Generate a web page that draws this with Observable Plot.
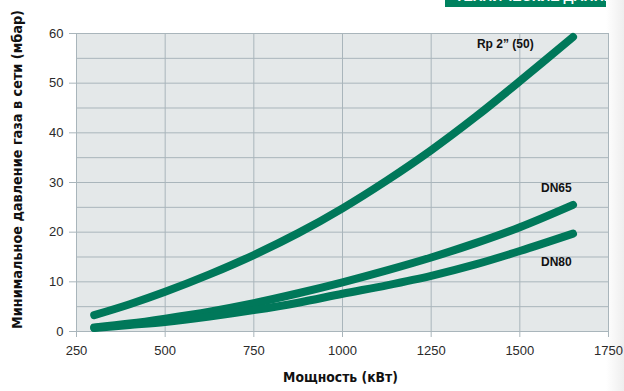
<!DOCTYPE html>
<html>
<head>
<meta charset="utf-8">
<script src="https://cdn.jsdelivr.net/npm/d3@7"></script>
<script src="https://cdn.jsdelivr.net/npm/@observablehq/plot@0.6"></script>
<style>
  html, body { margin: 0; padding: 0; background: #fff; }
  #wrap { position: relative; width: 624px; height: 391px; overflow: hidden; }
  #shade { position: absolute; left: 606px; top: 0; width: 18px; height: 391px;
           background: linear-gradient(to right, #ffffff, #eeeeee); }
  #badge { position: absolute; left: 445px; top: 0; width: 161px; height: 7px; background: #00825f; overflow: hidden; }
  #badge span { position: absolute; left: 10px; top: -11px; color: #fff; font: bold 14px "Liberation Sans", sans-serif; line-height: 14px; white-space: nowrap; }
  #chart { position: absolute; left: 0; top: 0; }
</style>
</head>
<body>
<div id="wrap">
  <div id="shade"></div>
  <div id="badge"><span>ТЕХНИЧЕСКИЕ ДАННЫЕ</span></div>
  <div id="chart"></div>
</div>
<script>
// Power (kW) sample points
const power = [300, 400, 500, 625, 750, 875, 1000, 1125, 1250, 1375, 1500, 1650];
// Minimum gas pressure (mbar) per connection
const rp2 = [3.3, 5.5, 8.0, 11.5, 15.4, 19.8, 24.8, 30.4, 36.5, 43.2, 50.4, 59.3];
const dn65 = [0.8, 1.6, 2.6, 4.0, 5.7, 7.7, 9.9, 12.3, 14.9, 17.8, 21.0, 25.5];
const dn80 = [0.7, 1.3, 1.9, 3.0, 4.3, 5.8, 7.6, 9.3, 11.2, 13.5, 16.2, 19.7];
const seriesNames = ["Rp 2” (50)", "DN65", "DN80"];
const xTicks = [250, 500, 750, 1000, 1250, 1500, 1750];
const yTicks = [0, 10, 20, 30, 40, 50, 60];
const yGrid = [0, 5, 10, 15, 20, 25, 30, 35, 40, 45, 50, 55, 60];
const xTitle = "Мощность (кВт)";
const yTitle = "Минимальное давление газа в сети (мбар)";
// label anchor points in data units
const labelX = [1459, 1603, 1603];
const labelY = [57.8, 28.9, 13.9];

const seriesValues = [rp2, dn65, dn80];
const rows = [];
seriesNames.forEach((s, i) => power.forEach((p, j) => rows.push({series: s, x: p, y: seriesValues[i][j]})));
const labels = seriesNames.map((s, i) => ({text: s, x: labelX[i], y: labelY[i]}));

const green = "#00785a";
const gridColor = "#a9b5bb";

const chart = Plot.plot({
  width: 624,
  height: 391,
  marginLeft: 76,
  marginRight: 16,
  marginTop: 33,
  marginBottom: 60,
  style: {background: "transparent", fontFamily: "'Liberation Sans', Arial, sans-serif"},
  x: {domain: [250, 1750]},
  y: {domain: [0, 60]},
  marks: [
    Plot.frame({fill: "#e4e8e9", stroke: null}),
    Plot.gridY(yGrid, {stroke: gridColor, strokeOpacity: 1, strokeWidth: 1}),
    Plot.gridX(xTicks, {stroke: gridColor, strokeOpacity: 1, strokeWidth: 1}),
    Plot.axisY(yTicks, {tickSize: 7, tickPadding: 6, fontSize: 13, color: "#2a2a2a", stroke: gridColor, label: null, tickFormat: d => String(d)}),
    Plot.axisX(xTicks, {tickSize: 6, tickPadding: 8, fontSize: 13, color: "#2a2a2a", stroke: gridColor, label: null, tickFormat: d => String(d)}),
    Plot.line(rows, {x: "x", y: "y", z: "series", stroke: green, strokeWidth: 8, curve: "catmull-rom", strokeLinecap: "round", strokeLinejoin: "round"}),
    Plot.text(labels, {x: "x", y: "y", text: "text", fontSize: 12, fontWeight: "bold", fill: "#111", fontFamily: "'Liberation Sans', Arial, sans-serif"}),
    Plot.text([yTitle], {frameAnchor: "left", textAnchor: "middle", rotate: -90, dx: -59, dy: -13, fontSize: 14.3, fontWeight: "bold", fill: "#111", fontFamily: "'Liberation Sans Narrow', 'DejaVu Sans Condensed', sans-serif"}),
    Plot.text([xTitle], {frameAnchor: "bottom", dy: 50, dx: -2, fontSize: 13.8, fontWeight: "bold", fill: "#111", fontFamily: "'Liberation Sans Narrow', 'DejaVu Sans Condensed', sans-serif"})
  ]
});
document.getElementById("chart").appendChild(chart);
</script>
</body>
</html>
